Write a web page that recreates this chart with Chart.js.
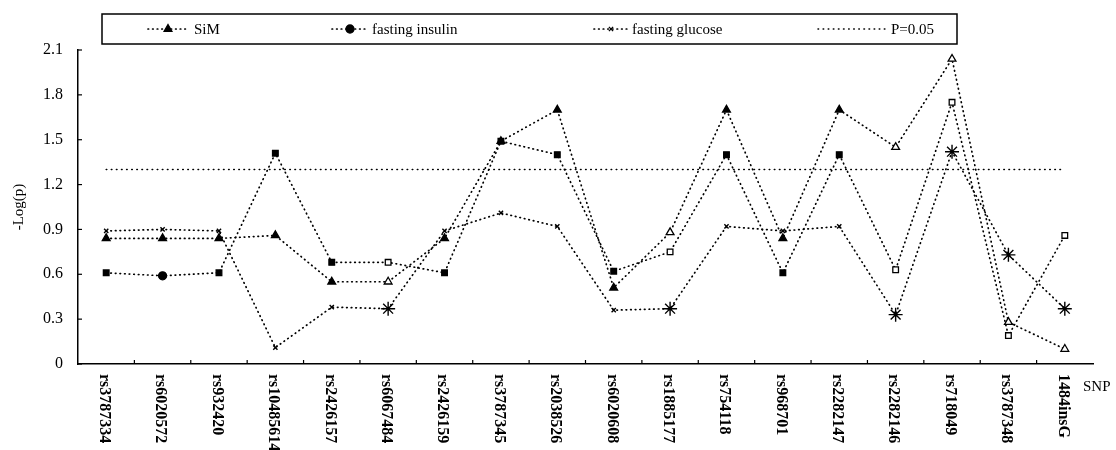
<!DOCTYPE html>
<html>
<head>
<meta charset="utf-8">
<script src="https://cdn.jsdelivr.net/npm/chart.js@4/dist/chart.umd.min.js"></script>
<style>
  body { margin: 0; background: #fff; }
  #wrap { width: 1116px; height: 450px; position: relative; }
</style>
</head>
<body>
<div id="wrap"><canvas id="chart"></canvas></div>
<script>
// SNPs along the bottom
const categories = ['rs3787334', 'rs6020572', 'rs932420', 'rs10485614', 'rs2426157', 'rs6067484',
  'rs2426159', 'rs3787345', 'rs2038526', 'rs6020608', 'rs1885177', 'rs754118', 'rs968701',
  'rs2282147', 'rs2282146', 'rs718049', 'rs3787348', '1484insG'];

// -log(p) per trait
const sim = [0.84, 0.84, 0.84, 0.86, 0.55, 0.55, 0.84, 1.49, 1.70, 0.51, 0.88, 1.70, 0.84, 1.70, 1.45, 2.04, 0.28, 0.10];
const insulin = [0.61, 0.59, 0.61, 1.41, 0.68, 0.68, 0.61, 1.49, 1.40, 0.62, 0.75, 1.40, 0.61, 1.40, 0.63, 1.75, 0.19, 0.86];
const glucose = [0.89, 0.90, 0.89, 0.11, 0.38, 0.37, 0.89, 1.01, 0.92, 0.36, 0.37, 0.92, 0.89, 0.92, 0.33, 1.42, 0.73, 0.37];
const pThreshold = 1.3; // -log10(0.05)

const yTicks = [0, 0.3, 0.6, 0.9, 1.2, 1.5, 1.8, 2.1];

// points drawn hollow (and as big asterisks for glucose) in the original
const openPoints = [5, 10, 14, 15, 16, 17];

const FONT = '"Liberation Serif", "Times New Roman", serif';
const isOpen = i => openPoints.includes(i);
const fills = () => categories.map((c, i) => isOpen(i) ? '#fff' : '#000');

// round caps + tiny dashes = dots, like the old excel export
const dotted = { borderColor: '#000', borderWidth: 1.7, borderDash: [0.6, 4], borderCapStyle: 'round', tension: 0, fill: false };

const datasets = [
  {
    label: 'SiM', data: sim, ...dotted,
    pointStyle: 'triangle', pointRadius: 4.5, pointBorderWidth: 1.3,
    pointBackgroundColor: fills(), pointBorderColor: '#000'
  },
  {
    label: 'fasting insulin', data: insulin, ...dotted,
    pointStyle: categories.map((c, i) => i === 1 ? 'circle' : 'rect'),
    pointRadius: 4, pointBorderWidth: 1.3,
    pointBackgroundColor: fills(), pointBorderColor: '#000'
  },
  {
    label: 'fasting glucose', data: glucose, ...dotted,
    pointStyle: categories.map((c, i) => isOpen(i) ? 'star' : 'crossRot'),
    pointRadius: categories.map((c, i) => isOpen(i) ? 7 : 3),
    pointBorderWidth: 1.4, pointBorderColor: '#000'
  },
  {
    label: 'P=0.05', data: Array(categories.length).fill(pThreshold),
    borderColor: '#000', borderWidth: 1.5, borderDash: [0.6, 4.5], borderCapStyle: 'round',
    pointRadius: 0, fill: false
  }
];

// the odd bits Chart.js won't do for us: inward ticks, top-to-bottom labels, boxed legend
const decor = {
  id: 'decor',
  afterDraw(chart) {
    const { ctx, chartArea } = chart;
    const x = chart.scales.x, y = chart.scales.y;
    ctx.save();
    ctx.strokeStyle = '#000';
    ctx.fillStyle = '#000';
    ctx.lineWidth = 1.2;

    // little ticks poking into the plot
    yTicks.forEach(v => {
      const py = y.getPixelForValue(v);
      ctx.beginPath(); ctx.moveTo(chartArea.left, py); ctx.lineTo(chartArea.left + 4, py); ctx.stroke();
    });
    for (let i = 1; i < categories.length; i++) {
      const px = (x.getPixelForValue(i - 1) + x.getPixelForValue(i)) / 2;
      ctx.beginPath(); ctx.moveTo(px, chartArea.bottom); ctx.lineTo(px, chartArea.bottom - 4); ctx.stroke();
    }

    // category labels, reading downwards
    ctx.font = 'bold 16px ' + FONT;
    ctx.textAlign = 'left';
    ctx.textBaseline = 'middle';
    categories.forEach((c, i) => {
      ctx.save();
      ctx.translate(x.getPixelForValue(i) - 2, chartArea.bottom + 10);
      ctx.rotate(Math.PI / 2);
      ctx.fillText(c, 0, 0);
      ctx.restore();
    });
    ctx.font = '15px ' + FONT;
    ctx.fillText('SNP', chartArea.right - 10, chartArea.bottom + 23);

    // legend box
    ctx.lineWidth = 1.5;
    ctx.strokeRect(102, 14, 855, 30);
    const items = [
      { ds: 0, x0: 148, x1: 188, mark: 168, text: 194, style: 'triangle', r: 4.5 },
      { ds: 1, x0: 332, x1: 368, mark: 350, text: 372, style: 'circle', r: 4 },
      { ds: 2, x0: 594, x1: 628, mark: 611, text: 632, style: 'crossRot', r: 3 },
      { ds: 3, x0: 818, x1: 888, mark: null, text: 891 }
    ];
    const ly = 29;
    items.forEach(it => {
      const ds = chart.data.datasets[it.ds];
      ctx.save();
      ctx.lineWidth = ds.borderWidth;
      ctx.lineCap = 'round';
      ctx.setLineDash(ds.borderDash);
      ctx.beginPath(); ctx.moveTo(it.x0, ly); ctx.lineTo(it.x1, ly); ctx.stroke();
      ctx.restore();
      if (it.mark !== null) {
        ctx.fillStyle = '#000';
        ctx.lineWidth = 1.3;
        Chart.helpers.drawPoint(ctx, { pointStyle: it.style, radius: it.r, rotation: 0, borderWidth: 1.3 }, it.mark, ly);
      }
      ctx.fillStyle = '#000';
      ctx.fillText(ds.label, it.text, ly + 1);
    });
    ctx.restore();
  }
};

new Chart(document.getElementById('chart'), {
  type: 'line',
  data: { labels: categories, datasets },
  options: {
    responsive: true,
    maintainAspectRatio: false,
    animation: false,
    layout: { padding: { top: 50, right: 23, left: 0, bottom: 0 } },
    plugins: { legend: { display: false }, tooltip: { enabled: false } },
    scales: {
      x: {
        offset: true,
        grid: { display: false, drawTicks: false },
        border: { display: true, color: '#000', width: 1.5 },
        ticks: { display: false },
        afterFit: s => { s.height = 86; }
      },
      y: {
        min: 0, max: 2.1,
        grid: { display: false, drawTicks: false },
        border: { display: true, color: '#000', width: 1.5 },
        afterBuildTicks: s => { s.ticks = yTicks.map(v => ({ value: v })); },
        ticks: {
          color: '#000', padding: 15,
          font: { family: FONT, size: 16 },
          callback: v => v === 0 ? '0' : v.toFixed(1)
        },
        title: {
          display: true, text: '-Log(p)', color: '#000',
          font: { family: FONT, size: 15 }, padding: { top: 10, bottom: 0 }
        },
        afterFit: s => { s.width = 78; }
      }
    }
  },
  plugins: [decor]
});
</script>
</body>
</html>
